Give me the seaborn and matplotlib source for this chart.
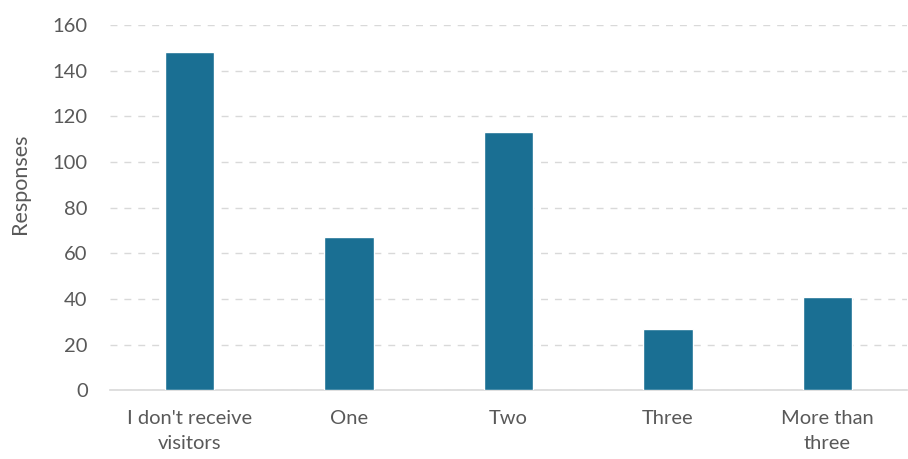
import matplotlib
matplotlib.use("Agg")
import matplotlib.pyplot as plt
import seaborn as sns
import pandas as pd

categories = ["I don't receive\nvisitors", "One", "Two", "Three", "More than\nthree"]
responses = [148, 67, 113, 27, 41]
y_ticks = [0, 20, 40, 60, 80, 100, 120, 140, 160]

sns.set_theme(style="white")
plt.rcParams['font.family'] = ['Lato', 'DejaVu Sans']

df = pd.DataFrame({"category": categories, "responses": responses})

fig = plt.figure(figsize=(9.08, 4.59), dpi=100)
ax = fig.add_axes([0.121, 0.150, 0.878, 0.7955])

sns.barplot(data=df, x="category", y="responses", color="#1A6F93",
            width=0.31, saturation=1, ax=ax, zorder=3)

ax.set_ylim(0, 160)
ax.set_xlim(-0.5, 4.5)
ax.set_yticks(y_ticks)
ax.yaxis.grid(True, linestyle=(0, (5, 5)), color="#d9d9d9", linewidth=1, zorder=0)
ax.xaxis.grid(False)
for s in ["top", "right", "left"]:
    ax.spines[s].set_visible(False)
ax.spines["bottom"].set_color("#d9d9d9")
ax.spines["bottom"].set_linewidth(1.2)
ax.tick_params(axis="y", length=0, labelsize=14.5, labelcolor="#595959", pad=16)
ax.tick_params(axis="x", length=0, labelsize=14.5, labelcolor="#595959", pad=14)
for lbl in ax.get_xticklabels():
    lbl.set_linespacing(1.6)
ax.set_xlabel("")
ax.set_ylabel("Responses", fontsize=15.5, color="#595959")
ax.yaxis.set_label_coords(-0.10, 0.564)

fig.savefig("out.png", dpi=100)
